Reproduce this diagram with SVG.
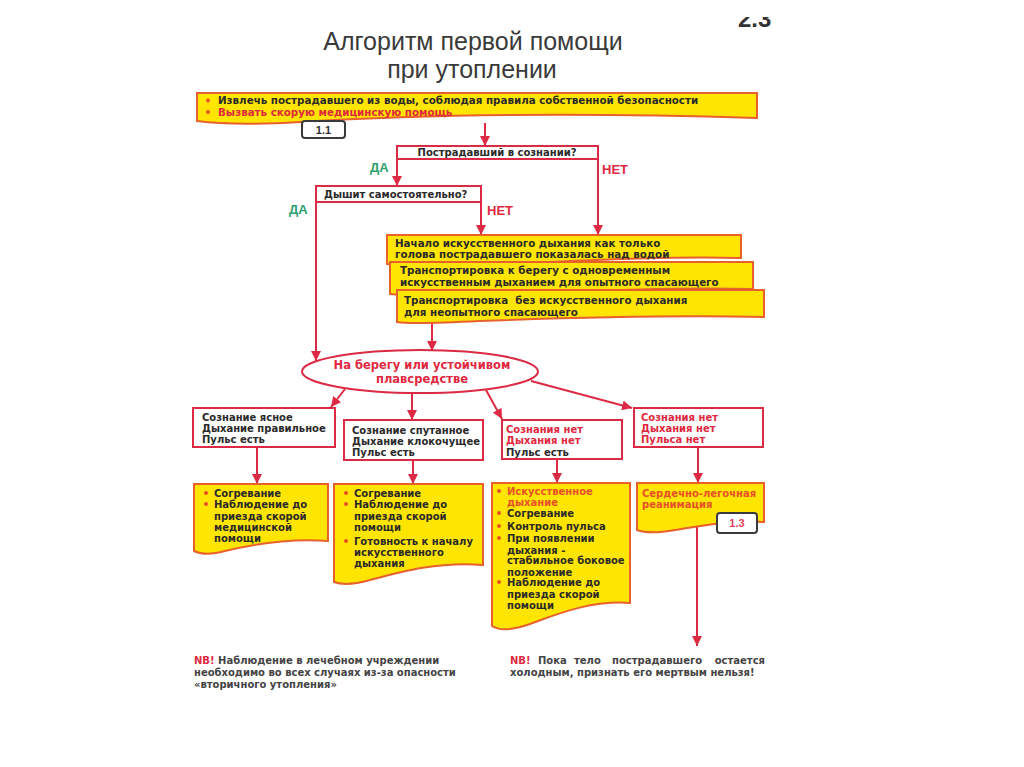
<svg xmlns="http://www.w3.org/2000/svg" width="1024" height="767" viewBox="0 0 1024 767">
<defs>
<marker id="ah" viewBox="0 0 10 10" refX="10" refY="5" markerWidth="10" markerHeight="10" markerUnits="userSpaceOnUse" orient="auto"><path d="M0,0 L10,5 L0,10 z" fill="#dc2a44"/></marker>
<clipPath id="topclip"><rect x="700" y="17" width="100" height="20"/></clipPath>
</defs>
<style>
.title{font-family:"Liberation Sans",Arial,sans-serif;font-size:25px;fill:#3a3a3a;text-anchor:middle}
.t{font-family:"DejaVu Sans","Liberation Sans",sans-serif;font-weight:bold;font-size:10px;fill:#2a2a2a}
.big{font-size:10.3px}
.ell{font-size:11.5px}
.red{fill:#e0283f}
.or{fill:#e8502a}
.yes{font-family:"Liberation Sans",sans-serif;font-weight:bold;font-size:13px;fill:#2f9e70}
.no{font-family:"Liberation Sans",sans-serif;font-weight:bold;font-size:13px;fill:#e0283f}
.yb{fill:#ffe500;stroke:#e8602c;stroke-width:2}
.wb{fill:#fff;stroke:#dc2a44;stroke-width:2}
.nb{fill:#fff;stroke:#3a3a3a;stroke-width:2}
.num{font-family:"Liberation Sans",sans-serif;font-weight:bold;font-size:11px;fill:#333;text-anchor:middle}
.c{fill:none;stroke:#dc2a44;stroke-width:2;marker-end:url(#ah)}
.bul{fill:#e8502a}
.mid{text-anchor:middle}
</style>
<rect width="1024" height="767" fill="#fff"/>

<g id="header">
<text x="738" y="27" clip-path="url(#topclip)" style="font-family:'Liberation Sans',sans-serif;font-weight:bold;font-size:24px;fill:#333">2.3</text>
<text class="title" x="473" y="50">Алгоритм первой помощи</text>
<text class="title" x="472" y="78">при утоплении</text>
</g>

<g id="connectors">
<path class="c" d="M485,123 L485,146"/>
<path class="c" d="M397,159 L397,186"/>
<path class="c" d="M598,159 L598,235"/>
<path class="c" d="M316,202 L316,361"/>
<path class="c" d="M481,202 L481,235"/>
<path class="c" d="M432,321 L432,351"/>
<path class="c" d="M345,389 L331,407"/>
<path class="c" d="M412,393 L412,420"/>
<path class="c" d="M486,390 L502,419"/>
<path class="c" d="M531,381 L632,408"/>
<path class="c" d="M257,447 L257,484"/>
<path class="c" d="M413,460 L413,484"/>
<path class="c" d="M557,459 L557,483"/>
<path class="c" d="M698,447 L698,483"/>
<path class="c" d="M697,525 L697,646"/>
</g>

<g id="labels">
<text class="yes" x="370" y="172">ДА</text>
<text class="no" x="602" y="174">НЕТ</text>
<text class="yes" x="289" y="214">ДА</text>
<text class="no" x="487" y="215">НЕТ</text>
</g>

<g id="n1">
<path class="yb" d="M197,93 H757 V118 C560,112 400,116 300,122 C250,125 220,124 197,121 Z"/>
<circle class="bul" cx="208" cy="100.5" r="2"/>
<circle class="bul" cx="208" cy="112" r="2"/>
<text class="t big" x="218" y="104">Извлечь пострадавшего из воды, соблюдая правила собственной безопасности</text>
<text class="t big red" x="218" y="115.5">Вызвать скорую медицинскую помощь</text>
</g>
<g id="n1-1">
<rect class="nb" x="302" y="121" width="43" height="17" rx="3"/>
<text class="num" x="323.5" y="133.5">1.1</text>
</g>

<g id="q1">
<rect class="wb" x="397" y="146" width="201" height="13"/>
<text class="t mid" x="497" y="156">Пострадавший в сознании?</text>
</g>

<g id="q2">
<rect class="wb" x="316" y="186" width="165" height="16"/>
<text class="t" x="324" y="198">Дышит самостоятельно?</text>
</g>

<g id="a1">
<path class="yb" d="M387,235 H741 V258 C650,256 560,262 480,265 C430,267 400,266 387,264 Z"/>
<text class="t big" x="395" y="247">Начало искусственного дыхания как только</text>
<text class="t big" x="395" y="258">голова пострадавшего показалась над водой</text>
</g>
<g id="a2">
<path class="yb" d="M390,262 H753 V289 C660,287 570,292 490,295 C440,297 410,296 390,294 Z"/>
<text class="t big" x="400" y="274">Транспортировка к берегу с одновременным</text>
<text class="t big" x="400" y="286">искусственным дыханием для опытного спасающего</text>
</g>
<g id="a3">
<path class="yb" d="M397,290 H764 V317 C680,315 560,318 480,321 C440,323 410,324 397,322 Z"/>
<text class="t big" x="404" y="304" xml:space="preserve">Транспортировка  без искусственного дыхания</text>
<text class="t big" x="404" y="316">для неопытного спасающего</text>
</g>

<g id="shore">
<ellipse cx="420" cy="371.5" rx="118" ry="21.5" fill="#fff" stroke="#dc2a44" stroke-width="2"/>
<text class="t ell red mid" x="422" y="369">На берегу или устойчивом</text>
<text class="t ell red mid" x="422" y="383">плавсредстве</text>
</g>

<g id="s1">
<rect class="wb" x="193" y="408" width="142" height="39"/>
<text class="t" x="202" y="421">Сознание ясное</text>
<text class="t" x="202" y="432">Дыхание правильное</text>
<text class="t" x="202" y="443">Пульс есть</text>
</g>
<g id="s2">
<rect class="wb" x="344" y="420" width="139" height="40"/>
<text class="t" x="352" y="434">Сознание спутанное</text>
<text class="t" x="352" y="445">Дыхание клокочущее</text>
<text class="t" x="352" y="456">Пульс есть</text>
</g>
<g id="s3">
<rect class="wb" x="502" y="420" width="120" height="39"/>
<text class="t red" x="506" y="433">Сознания нет</text>
<text class="t red" x="506" y="444">Дыхания нет</text>
<text class="t" x="506" y="456">Пульс есть</text>
</g>
<g id="s4">
<rect class="wb" x="634" y="408" width="129" height="39"/>
<text class="t red" x="641" y="421">Сознания нет</text>
<text class="t red" x="641" y="432">Дыхания нет</text>
<text class="t red" x="641" y="443">Пульса нет</text>
</g>

<g id="y1">
<path class="yb" d="M194,484 H328 V541 C290,538 250,545 225,551 C210,555 200,554 194,551 Z"/>
<circle class="bul" cx="206" cy="493" r="2"/>
<circle class="bul" cx="206" cy="504" r="2"/>
<text class="t" x="214" y="497">Согревание</text>
<text class="t" x="214" y="508">Наблюдение до</text>
<text class="t" x="214" y="520">приезда скорой</text>
<text class="t" x="214" y="531">медицинской</text>
<text class="t" x="214" y="542">помощи</text>
</g>
<g id="y2">
<path class="yb" d="M334,484 H483 V565 C440,561 400,572 370,580 C352,585 342,585 334,582 Z"/>
<circle class="bul" cx="346" cy="493" r="2"/>
<circle class="bul" cx="346" cy="504" r="2"/>
<circle class="bul" cx="346" cy="541" r="2"/>
<text class="t" x="354" y="497">Согревание</text>
<text class="t" x="354" y="508">Наблюдение до</text>
<text class="t" x="354" y="520">приезда скорой</text>
<text class="t" x="354" y="531">помощи</text>
<text class="t" x="354" y="545">Готовность к началу</text>
<text class="t" x="354" y="556">искусственного</text>
<text class="t" x="354" y="567">дыхания</text>
</g>
<g id="y3">
<path class="yb" d="M492,483 H630 V603 C590,600 555,615 530,624 C510,631 498,630 492,626 Z"/>
<circle class="bul" cx="499" cy="491" r="2"/>
<circle class="bul" cx="499" cy="513" r="2"/>
<circle class="bul" cx="499" cy="526" r="2"/>
<circle class="bul" cx="499" cy="538" r="2"/>
<circle class="bul" cx="499" cy="582" r="2"/>
<text class="t or" x="507" y="494.5">Искусственное</text>
<text class="t or" x="507" y="505.5">дыхание</text>
<text class="t" x="507" y="516.5">Согревание</text>
<text class="t" x="507" y="529.5">Контроль пульса</text>
<text class="t" x="507" y="541.5">При появлении</text>
<text class="t" x="507" y="553.5">дыхания -</text>
<text class="t" x="507" y="563.5">стабильное боковое</text>
<text class="t" x="507" y="575.5">положение</text>
<text class="t" x="507" y="585.5">Наблюдение до</text>
<text class="t" x="507" y="597.5">приезда скорой</text>
<text class="t" x="507" y="608.5">помощи</text>
</g>
<g id="y4">
<path class="yb" d="M637,483 H764 V522 C730,520 700,526 675,530 C658,533 645,533 637,530 Z"/>
<text class="t or" x="642" y="496.5">Сердечно-легочная</text>
<text class="t or" x="642" y="507.5">реанимация</text>
</g>
<g id="n1-3">
<rect class="nb" x="717" y="513" width="40" height="20" rx="3"/>
<text class="num" x="737" y="527" style="fill:#e0405a">1.3</text>
</g>

<g id="notes">
<text class="t" x="194" y="664" style="fill:#444"><tspan class="red">NB!</tspan> Наблюдение в лечебном учреждении</text>
<text class="t" x="194" y="676" style="fill:#444">необходимо во всех случаях из-за опасности</text>
<text class="t" x="194" y="688" style="fill:#444">«вторичного утопления»</text>
<text class="t" y="664" style="fill:#444"><tspan class="red" x="510">NB!</tspan><tspan x="538">Пока</tspan><tspan x="574">тело</tspan><tspan x="612">пострадавшего</tspan><tspan x="765" text-anchor="end">остается</tspan></text>
<text class="t" x="510" y="676" style="fill:#444">холодным, признать его мертвым нельзя!</text>
</g>
</svg>
